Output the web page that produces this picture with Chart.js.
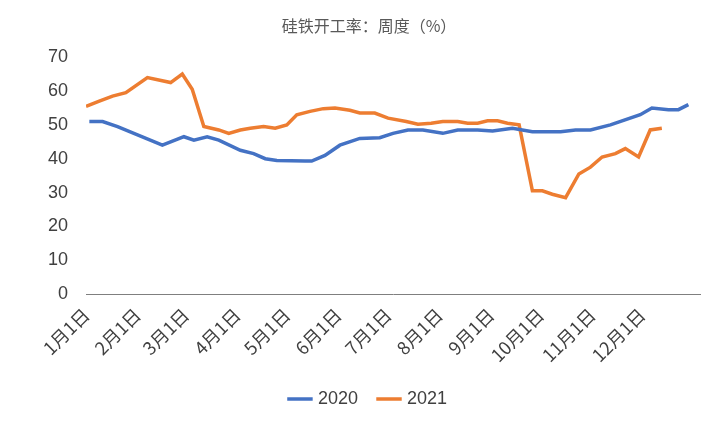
<!DOCTYPE html><html><head><meta charset="utf-8">
<script src="https://cdn.jsdelivr.net/npm/chart.js@4/dist/chart.umd.min.js"></script>
<style>body{margin:0;background:#fff}#w{width:720px;height:432px}</style></head><body><div id="w"><canvas id="c"></canvas></div>
<script>
const tickDays=[0,31,60,91,121,152,182,213,244,274,305,335];
const tickLabels=["1月1日","2月1日","3月1日","4月1日","5月1日","6月1日","7月1日","8月1日","9月1日","10月1日","11月1日","12月1日"];
const days2020=[2,10,19,46,59,65,73,80,93,101,108,115,132,136,144,153,165,177,185,194,203,215,224,236,245,257,269,286,295,304,316,334,341,351,357,363];
const vals2020=[51,51,49.5,44,46.5,45.5,46.5,45.5,42.5,41.5,40,39.5,39.3,39.3,41,44,46,46.2,47.5,48.5,48.5,47.5,48.5,48.5,48.2,49,48,48,48.5,48.5,50,53,55,54.5,54.5,56];
const days2021=[0,8,16,24,37,51,58,64,71,80,86,93,99,107,114,121,127,135,143,150,159,165,174,182,193,200,208,215,224,230,236,242,248,254,261,269,275,281,289,297,304,311,319,325,333,340,347];
const vals2021=[55.5,57,58.5,59.5,64,62.5,65,60.5,49.5,48.5,47.5,48.5,49,49.5,49,50,53,54,54.8,55,54.3,53.5,53.5,52,51,50.2,50.5,51,51,50.5,50.5,51.2,51.2,50.5,50,30.5,30.5,29.5,28.5,35.5,37.5,40.5,41.5,43,40.5,48.5,49];
const mk=(d,v)=>d.map((x,i)=>({x,y:v[i]}));
new Chart(document.getElementById('c'),{type:'line',data:{datasets:[
{label:'2020',data:mk(days2020,vals2020),borderColor:'#4472C4',backgroundColor:'#4472C4',borderWidth:3.5,pointRadius:0,tension:0},
{label:'2021',data:mk(days2021,vals2021),borderColor:'#ED7D31',backgroundColor:'#ED7D31',borderWidth:3.5,pointRadius:0,tension:0}]},
options:{responsive:true,maintainAspectRatio:false,animation:false,
layout:{padding:{left:38,right:20,top:10,bottom:14}},
plugins:{title:{display:true,text:'硅铁开工率：周度（%）',color:'#595959',font:{size:16,family:'Noto Sans CJK SC',weight:'normal'},padding:{top:6,bottom:22}},
legend:{position:'bottom',labels:{usePointStyle:true,pointStyle:'line',boxWidth:40,color:'#404040',font:{size:18},padding:22}},tooltip:{enabled:false}},
scales:{x:{type:'linear',min:0,max:370,grid:{display:false,drawTicks:true},border:{color:'#7f7f7f'},
afterBuildTicks:a=>{a.ticks=tickDays.map(v=>({value:v}));},
ticks:{autoSkip:false,maxRotation:45,minRotation:45,color:'#404040',font:{size:18,family:'Noto Sans CJK SC'},padding:2,callback:v=>tickLabels[tickDays.indexOf(v)]}},
y:{min:0,max:70,grid:{display:false},border:{display:false},ticks:{stepSize:10,color:'#404040',font:{size:18},padding:10}}}}});
</script></body></html>
